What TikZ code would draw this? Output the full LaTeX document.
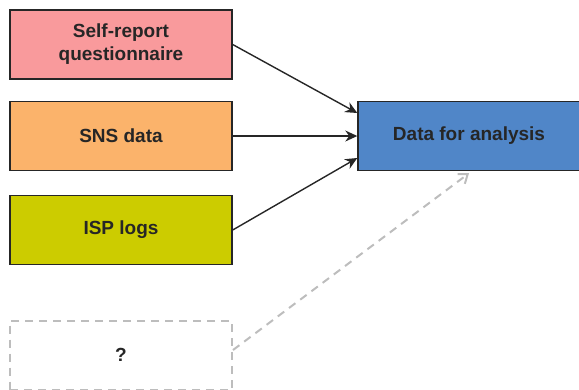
\documentclass[tikz,border=0pt]{standalone}
\usepackage{fontspec}
\setmainfont{Liberation Sans}
\usetikzlibrary{arrows.meta}
\definecolor{pinkfill}{HTML}{F99A9C}
\definecolor{orangefill}{HTML}{FBB36B}
\definecolor{olivefill}{HTML}{CCCC00}
\definecolor{bluefill}{HTML}{5086C8}
\definecolor{dashgray}{HTML}{BDBDBD}
\tikzset{
  srcbox/.style={draw=black!85, line width=1.4pt, minimum width=222pt, minimum height=69pt,
    inner sep=0pt, align=center, font=\fontsize{19}{23}\selectfont\bfseries, text=black!85},
  feed/.style={draw=black!85, line width=1.4pt, -{Stealth[length=12pt,width=11pt]}},
  later/.style={draw=dashgray, line width=2pt, dash pattern=on 8pt off 6pt,
    -{Straight Barb[length=8pt,width=12pt,line width=2pt]}}
}
\begin{document}
\begin{tikzpicture}[x=1pt, y=-1pt]
  \useasboundingbox (0,0) rectangle (579,389);
  \begin{scope}
    \clip (0,0) rectangle (579,389);
    \node[srcbox, fill=pinkfill] (sr) at (121,44.5) {Self-report\\questionnaire};
    \node[srcbox, fill=orangefill] (sns) at (121,136) {SNS data};
    \node[srcbox, fill=olivefill] (isp) at (121,230) {ISP logs};
    \node[srcbox, draw=dashgray, line width=2pt, dash pattern=on 8pt off 6pt] (q) at (121,355) {?};
    \node[srcbox, fill=bluefill] (d) at (469,136) {Data for analysis};

    \draw[feed] (sr.east) -- ([yshift=23pt]d.west);
    \draw[feed] (sns.east) -- (d.west);
    \draw[feed] (isp.east) -- ([yshift=-22pt]d.west);
    \draw[later] ([yshift=5pt]q.east) -- ([yshift=-2pt]d.south);
  \end{scope}
\end{tikzpicture}
\end{document}
